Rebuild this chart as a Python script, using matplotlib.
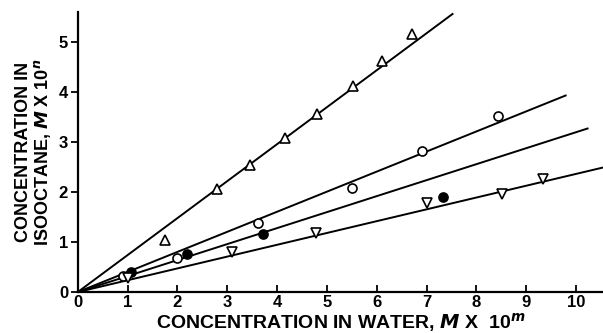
import matplotlib
matplotlib.use("Agg")
import matplotlib.pyplot as plt
import numpy as np

plt.rcParams['font.family'] = ['Liberation Sans', 'DejaVu Sans']

# Data
tri_up_x = [1.75, 2.8, 3.45, 4.15, 4.81, 5.53, 6.11, 6.70]
tri_up_y = [1.05, 2.07, 2.55, 3.08, 3.57, 4.12, 4.62, 5.15]
tri_up_line_x = [0, 7.52]
tri_up_line_y = [0, 5.56]

open_x = [0.9, 2.0, 3.62, 5.51, 6.91, 8.43]
open_y = [0.32, 0.68, 1.39, 2.09, 2.82, 3.53]
open_line_x = [0, 9.79]
open_line_y = [0, 3.93]

filled_x = [1.07, 2.2, 3.72, 7.32]
filled_y = [0.40, 0.77, 1.17, 1.91]
filled_line_x = [0, 10.23]
filled_line_y = [0, 3.27]

tri_dn_x = [1.0, 3.1, 4.79, 7.0, 8.52, 9.33]
tri_dn_y = [0.28, 0.80, 1.19, 1.79, 1.97, 2.26]
tri_dn_line_x = [0, 10.54]
tri_dn_line_y = [0, 2.49]

xticks = [0, 1, 2, 3, 4, 5, 6, 7, 8, 9, 10]
yticks = [0, 1, 2, 3, 4, 5]

fig = plt.figure(figsize=(6.03, 3.33), dpi=100)
ax = fig.add_axes([0.129, 0.123, 0.871, 0.841])

lw = 1.4
for lx, ly in [(tri_up_line_x, tri_up_line_y), (open_line_x, open_line_y),
               (filled_line_x, filled_line_y), (tri_dn_line_x, tri_dn_line_y)]:
    ax.plot(lx, ly, color='black', lw=lw, zorder=2)

ms = 6.5
ax.plot(tri_up_x, tri_up_y, ls='none', marker='^', ms=ms, mfc='white', mec='black', mew=1.2, zorder=3)
ax.plot(open_x, open_y, ls='none', marker='o', ms=ms, mfc='white', mec='black', mew=1.2, zorder=3)
ax.plot(filled_x, filled_y, ls='none', marker='o', ms=ms, mfc='black', mec='black', mew=1.2, zorder=3)
ax.plot(tri_dn_x, tri_dn_y, ls='none', marker='v', ms=ms, mfc='white', mec='black', mew=1.2, zorder=3)

ax.set_xlim(0, 10.54)
ax.set_ylim(0, 5.6)
ax.set_xticks(xticks)
ax.set_yticks(yticks)
ax.set_xticklabels([str(t) for t in xticks], fontsize=12, fontweight='bold')
ax.set_yticklabels([str(t) for t in yticks], fontsize=12, fontweight='bold')
ax.tick_params(axis='x', direction='in', length=5, width=1.3, pad=2)
ax.tick_params(axis='y', direction='out', length=5, width=1.3, pad=2)
for s in ['top', 'right']:
    ax.spines[s].set_visible(False)
for s in ['left', 'bottom']:
    ax.spines[s].set_linewidth(1.6)

ax.set_xlabel(r'CONCENTRATION IN WATER, $\boldsymbol{M}$ X  10$^{\boldsymbol{m}}$', fontsize=14, fontweight='bold', labelpad=1)
ax.set_ylabel('CONCENTRATION IN\nISOOCTANE, $\\boldsymbol{M}$ X 10$^{\\boldsymbol{n}}$', fontsize=13, fontweight='bold', labelpad=4, linespacing=1.0)

fig.savefig('out.png', dpi=100)
